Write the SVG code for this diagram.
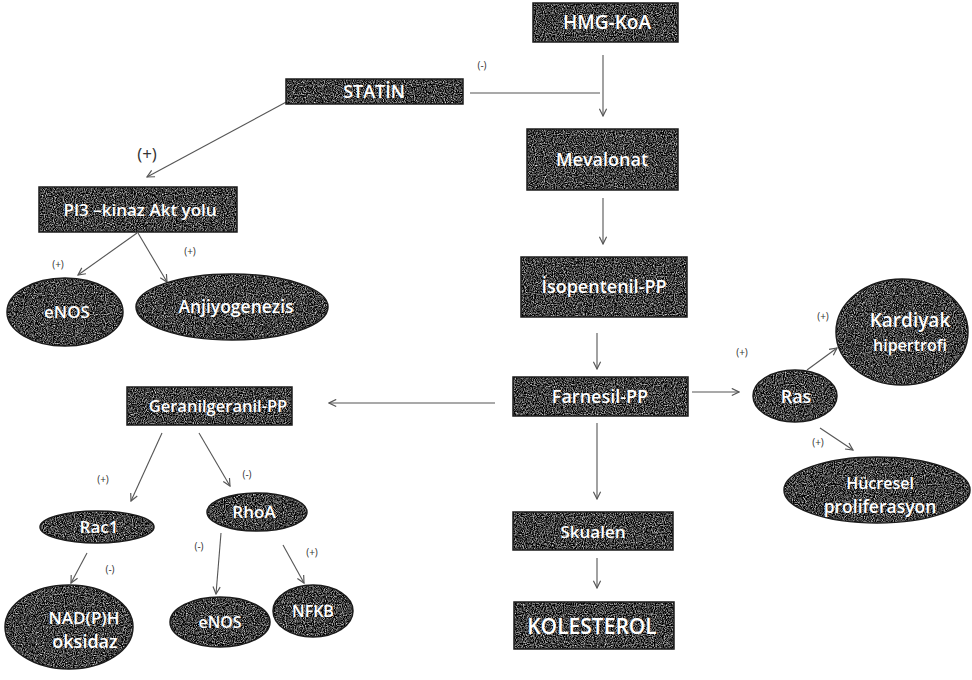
<svg xmlns="http://www.w3.org/2000/svg" width="972" height="680" viewBox="0 0 972 680">
<style>
  .bg{filter:url(#tex);}
  .edge{fill:none;stroke:#1c1c1c;stroke-width:1.5;}
  .t{font-family:"Open Sans","DejaVu Sans",sans-serif;fill:#ffffff;text-anchor:middle;font-size:17px;font-weight:600;}
  .s{font-family:"Open Sans","DejaVu Sans",sans-serif;fill:#333;text-anchor:middle;font-size:10px;}
  .c line{stroke:#555;stroke-width:1.1;fill:none;}
  .c line.a{marker-end:url(#ah);}
</style>
<defs>
  <filter id="tex" x="0" y="0" width="100%" height="100%" color-interpolation-filters="sRGB">
    <feTurbulence type="fractalNoise" baseFrequency="0.9" numOctaves="2" seed="3" result="n"/>
    <feColorMatrix in="n" type="matrix" values="1 0 0 0 0  1 0 0 0 0  1 0 0 0 0  0 0 0 0 1" result="g"/>
    <feComponentTransfer in="g" result="d">
      <feFuncR type="linear" slope="1.7" intercept="-0.6"/>
      <feFuncG type="linear" slope="1.7" intercept="-0.6"/>
      <feFuncB type="linear" slope="1.7" intercept="-0.6"/>
    </feComponentTransfer>
    <feComposite in="d" in2="SourceGraphic" operator="in"/>
  </filter>
  <marker id="ah" viewBox="0 0 10 10" refX="9" refY="5" markerWidth="9" markerHeight="9" markerUnits="userSpaceOnUse" orient="auto">
    <path d="M1,1 L9,5 L1,9" fill="none" stroke="#555" stroke-width="1.3"/>
  </marker>
</defs>
<rect width="972" height="680" fill="#ffffff"/>

<g id="connectors" class="c">
  <line class="a" x1="603" y1="55" x2="603" y2="116"/>
  <line x1="470" y1="93" x2="600" y2="93"/>
  <line class="a" x1="603" y1="198" x2="603" y2="244"/>
  <line class="a" x1="597" y1="333" x2="597" y2="369"/>
  <line class="a" x1="597" y1="423" x2="597" y2="499"/>
  <line class="a" x1="597" y1="558" x2="597" y2="588"/>
  <line class="a" x1="692" y1="392" x2="739" y2="392"/>
  <line class="a" x1="495" y1="403" x2="329" y2="403"/>
  <line class="a" x1="290" y1="100" x2="147" y2="177"/>
  <line class="a" x1="137" y1="233" x2="78" y2="275"/>
  <line class="a" x1="138" y1="233" x2="167" y2="282"/>
  <line class="a" x1="807" y1="370" x2="837" y2="348"/>
  <line class="a" x1="820" y1="428" x2="853" y2="450"/>
  <line class="a" x1="162" y1="433" x2="131" y2="501"/>
  <line class="a" x1="199" y1="433" x2="230" y2="486"/>
  <line class="a" x1="87" y1="553" x2="71" y2="583"/>
  <line class="a" x1="221" y1="533" x2="216" y2="594"/>
  <line class="a" x1="283" y1="545" x2="304" y2="583"/>
</g>

<g id="labels">
  <text class="s" x="482" y="69">(-)</text>
  <text class="s" x="147" y="160" style="font-size:17px">(+)</text>
  <text class="s" x="58" y="268">(+)</text>
  <text class="s" x="190" y="255">(+)</text>
  <text class="s" x="742" y="356">(+)</text>
  <text class="s" x="823" y="320">(+)</text>
  <text class="s" x="818" y="446">(+)</text>
  <text class="s" x="103" y="483">(+)</text>
  <text class="s" x="247" y="478">(-)</text>
  <text class="s" x="110" y="573">(-)</text>
  <text class="s" x="199" y="550">(-)</text>
  <text class="s" x="312" y="556">(+)</text>
</g>

<g id="hmgkoa">
  <rect class="bg" x="533" y="3" width="145" height="39"/>
  <rect class="edge" x="533" y="3" width="145" height="39"/>
  <text class="t" x="607" y="29" style="font-size:19px">HMG-KoA</text>
</g>
<g id="statin">
  <rect class="bg" x="286" y="79" width="177" height="25"/>
  <rect class="edge" x="286" y="79" width="177" height="25"/>
  <text class="t" x="374" y="98" style="font-size:18px">STATİN</text>
</g>
<g id="mevalonat">
  <rect class="bg" x="527" y="129" width="151" height="61"/>
  <rect class="edge" x="527" y="129" width="151" height="61"/>
  <text class="t" x="602" y="166" style="font-size:18px">Mevalonat</text>
</g>
<g id="isopentenil">
  <rect class="bg" x="521" y="257" width="166" height="60"/>
  <rect class="edge" x="521" y="257" width="166" height="60"/>
  <text class="t" x="604" y="293" style="font-size:18px">İsopentenil-PP</text>
</g>
<g id="farnesil">
  <rect class="bg" x="513" y="377" width="175" height="39"/>
  <rect class="edge" x="513" y="377" width="175" height="39"/>
  <text class="t" x="600" y="403" style="font-size:18px">Farnesil-PP</text>
</g>
<g id="skualen">
  <rect class="bg" x="513" y="512" width="160" height="38"/>
  <rect class="edge" x="513" y="512" width="160" height="38"/>
  <text class="t" x="593" y="538" style="font-size:17px">Skualen</text>
</g>
<g id="kolesterol">
  <rect class="bg" x="514" y="602" width="160" height="47"/>
  <rect class="edge" x="514" y="602" width="160" height="47"/>
  <text class="t" x="592" y="634" style="font-size:21px">KOLESTEROL</text>
</g>
<g id="pi3">
  <rect class="bg" x="39" y="187" width="198" height="45"/>
  <rect class="edge" x="39" y="187" width="198" height="45"/>
  <text class="t" x="140" y="216" style="font-size:17px">PI3 –kinaz Akt yolu</text>
</g>
<g id="geranil">
  <rect class="bg" x="127" y="387" width="165" height="38"/>
  <rect class="edge" x="127" y="387" width="165" height="38"/>
  <text class="t" x="218" y="412" style="font-size:16.5px">Geranilgeranil-PP</text>
</g>

<g id="enos1">
  <ellipse class="bg" cx="65" cy="312" rx="58" ry="34"/>
  <ellipse class="edge" cx="65" cy="312" rx="58" ry="34"/>
  <text class="t" x="67" y="318" style="font-size:17px">eNOS</text>
</g>
<g id="anjiyogenezis">
  <ellipse class="bg" cx="232" cy="307" rx="96" ry="33"/>
  <ellipse class="edge" cx="232" cy="307" rx="96" ry="33"/>
  <text class="t" x="236" y="313" style="font-size:17.5px">Anjiyogenezis</text>
</g>
<g id="ras">
  <ellipse class="bg" cx="795" cy="396" rx="42" ry="26"/>
  <ellipse class="edge" cx="795" cy="396" rx="42" ry="26"/>
  <text class="t" x="796" y="403" style="font-size:18px">Ras</text>
</g>
<g id="kardiyak">
  <ellipse class="bg" cx="902" cy="332" rx="66" ry="53"/>
  <ellipse class="edge" cx="902" cy="332" rx="66" ry="53"/>
  <text class="t" x="910" y="327" style="font-size:19px">Kardiyak</text>
  <text class="t" x="910" y="351" style="font-size:16px">hipertrofi</text>
</g>
<g id="hucresel">
  <ellipse class="bg" cx="877" cy="490" rx="93" ry="33"/>
  <ellipse class="edge" cx="877" cy="490" rx="93" ry="33"/>
  <text class="t" x="880" y="489" style="font-size:16px">Hücresel</text>
  <text class="t" x="880" y="513" style="font-size:17.5px">proliferasyon</text>
</g>
<g id="rac1">
  <ellipse class="bg" cx="97" cy="527" rx="57" ry="16"/>
  <ellipse class="edge" cx="97" cy="527" rx="57" ry="16"/>
  <text class="t" x="99" y="533" style="font-size:17px">Rac1</text>
</g>
<g id="rhoa">
  <ellipse class="bg" cx="257" cy="512" rx="50" ry="19"/>
  <ellipse class="edge" cx="257" cy="512" rx="50" ry="19"/>
  <text class="t" x="254" y="518" style="font-size:17px">RhoA</text>
</g>
<g id="nadph">
  <ellipse class="bg" cx="69" cy="627" rx="64" ry="42"/>
  <ellipse class="edge" cx="69" cy="627" rx="64" ry="42"/>
  <text class="t" x="84" y="624" style="font-size:17px">NAD(P)H</text>
  <text class="t" x="85" y="648" style="font-size:18px">oksidaz</text>
</g>
<g id="enos2">
  <ellipse class="bg" cx="220" cy="622" rx="50" ry="25"/>
  <ellipse class="edge" cx="220" cy="622" rx="50" ry="25"/>
  <text class="t" x="220" y="628" style="font-size:16px">eNOS</text>
</g>
<g id="nfkb">
  <ellipse class="bg" cx="313" cy="611" rx="40" ry="26"/>
  <ellipse class="edge" cx="313" cy="611" rx="40" ry="26"/>
  <text class="t" x="313" y="617" style="font-size:16px">NFKB</text>
</g>
</svg>
